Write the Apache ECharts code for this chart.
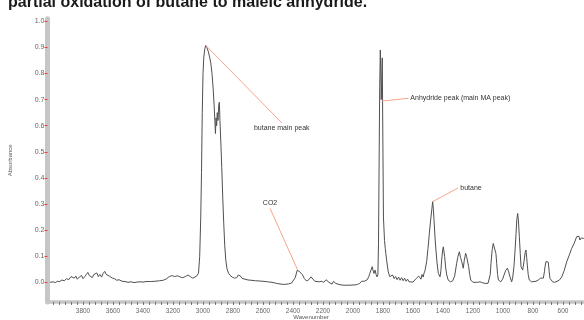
<!DOCTYPE html>
<html>
<head>
<meta charset="utf-8">
<script src="https://cdn.jsdelivr.net/npm/echarts@6/dist/echarts.min.js"></script>
<style>
  html, body { margin: 0; padding: 0; background: #fff; }
  #chart { width: 584px; height: 320px; }
</style>
</head>
<body>
<div id="chart"></div>
<script>
// IR spectrum: [wavenumber, absorbance]
const spectrum = [
  [4020, 0.000], [4000, 0.002], [3985, -0.001], [3970, 0.004], [3955, 0.003],
  [3940, 0.009], [3925, 0.006], [3910, 0.014], [3895, 0.010], [3880, 0.022],
  [3868, 0.028], [3858, 0.016], [3848, 0.024], [3838, 0.012], [3825, 0.020],
  [3810, 0.026], [3800, 0.014], [3788, 0.022], [3778, 0.030], [3768, 0.038],
  [3758, 0.026], [3748, 0.032], [3738, 0.018], [3728, 0.030], [3718, 0.024],
  [3708, 0.036], [3698, 0.022], [3688, 0.030], [3676, 0.020], [3666, 0.034],
  [3655, 0.042], [3645, 0.030], [3636, 0.036], [3625, 0.024], [3614, 0.026],
  [3604, 0.016], [3590, 0.014], [3575, 0.008], [3560, 0.010], [3540, 0.004],
  [3520, 0.003], [3500, 0.000], [3480, 0.002], [3460, -0.001], [3440, 0.001],
  [3420, 0.002], [3400, 0.001], [3380, 0.003], [3350, 0.003], [3320, 0.004],
  [3290, 0.006], [3265, 0.008], [3245, 0.013], [3225, 0.022], [3205, 0.026],
  [3190, 0.022], [3170, 0.025], [3150, 0.020], [3135, 0.018], [3118, 0.022],
  [3100, 0.028], [3085, 0.022], [3068, 0.016], [3055, 0.018], [3042, 0.024],
  [3030, 0.035], [3022, 0.10], [3015, 0.25], [3010, 0.42], [3005, 0.65],
  [3000, 0.80], [2995, 0.86], [2988, 0.895], [2982, 0.908], [2975, 0.90],
  [2965, 0.885], [2955, 0.86], [2948, 0.84], [2940, 0.80], [2932, 0.74],
  [2926, 0.68], [2921, 0.62], [2917, 0.57], [2913, 0.63], [2909, 0.60],
  [2905, 0.65], [2900, 0.62], [2895, 0.68], [2891, 0.69], [2887, 0.62],
  [2880, 0.52], [2875, 0.44], [2868, 0.32], [2862, 0.23], [2855, 0.14],
  [2848, 0.085], [2840, 0.052], [2830, 0.035], [2820, 0.027], [2805, 0.020],
  [2790, 0.016], [2775, 0.018], [2765, 0.028], [2758, 0.034], [2750, 0.024],
  [2740, 0.015], [2720, 0.012], [2700, 0.009], [2680, 0.008], [2650, 0.006],
  [2620, 0.005], [2600, 0.004], [2570, 0.002], [2540, 0.000], [2510, -0.004],
  [2480, -0.007], [2455, -0.008], [2430, -0.006], [2410, -0.003], [2398, 0.003],
  [2385, 0.018], [2372, 0.046], [2365, 0.040], [2358, 0.042], [2348, 0.036],
  [2338, 0.030], [2325, 0.015], [2310, 0.005], [2295, 0.010], [2280, 0.021],
  [2268, 0.014], [2255, 0.004], [2242, 0.000], [2225, 0.002], [2210, 0.004],
  [2195, 0.000], [2180, 0.010], [2170, 0.005], [2160, 0.000], [2150, 0.006],
  [2140, -0.007], [2130, 0.004], [2115, -0.004], [2100, -0.007], [2080, -0.010],
  [2060, -0.011], [2040, -0.011], [2020, -0.011], [2000, -0.010], [1985, -0.010],
  [1970, -0.008], [1955, -0.004], [1943, 0.004], [1935, 0.010], [1925, 0.004],
  [1915, 0.000], [1905, 0.010], [1895, 0.022], [1888, 0.034], [1880, 0.040],
  [1872, 0.060], [1866, 0.045], [1860, 0.034], [1853, 0.047], [1846, 0.030],
  [1840, 0.021], [1834, 0.030], [1830, 0.15], [1826, 0.45], [1822, 0.75],
  [1818, 0.89], [1815, 0.82], [1812, 0.70], [1809, 0.76], [1805, 0.86],
  [1801, 0.55], [1797, 0.25], [1790, 0.16], [1785, 0.13], [1776, 0.085],
  [1765, 0.040], [1755, 0.022], [1745, 0.015], [1735, 0.028], [1726, 0.014],
  [1716, 0.022], [1706, 0.010], [1696, 0.020], [1686, 0.008], [1676, 0.018],
  [1666, 0.006], [1656, 0.016], [1646, 0.004], [1636, 0.012], [1626, 0.002],
  [1616, 0.004], [1600, 0.001], [1588, 0.006], [1578, 0.015], [1570, 0.008],
  [1562, 0.024], [1555, 0.028], [1547, 0.012], [1540, 0.030], [1532, 0.020],
  [1527, 0.034], [1520, 0.045], [1509, 0.079], [1500, 0.13], [1491, 0.188],
  [1483, 0.235], [1475, 0.277], [1469, 0.309], [1464, 0.28], [1460, 0.24],
  [1453, 0.17], [1447, 0.124], [1440, 0.075], [1431, 0.034], [1420, 0.021],
  [1414, 0.045], [1409, 0.085], [1403, 0.120], [1398, 0.136], [1394, 0.120],
  [1389, 0.098], [1382, 0.055], [1375, 0.028], [1365, 0.008], [1350, 0.002],
  [1335, 0.006], [1322, 0.025], [1309, 0.073], [1300, 0.100], [1291, 0.117],
  [1283, 0.095], [1275, 0.079], [1265, 0.054], [1258, 0.085], [1249, 0.111],
  [1243, 0.100], [1238, 0.105], [1229, 0.060], [1222, 0.030], [1215, 0.009],
  [1200, 0.000], [1187, -0.004], [1170, 0.000], [1153, 0.002], [1135, -0.002],
  [1120, -0.004], [1100, -0.004], [1091, 0.000], [1085, 0.030], [1080, 0.073],
  [1072, 0.125], [1065, 0.149], [1059, 0.145], [1053, 0.143], [1047, 0.110],
  [1042, 0.073], [1036, 0.030], [1031, 0.009], [1015, 0.002], [1003, 0.012],
  [993, 0.028], [982, 0.045], [971, 0.054], [962, 0.040], [953, 0.020],
  [942, 0.002], [935, 0.020], [927, 0.060], [920, 0.120], [913, 0.188],
  [908, 0.240], [902, 0.264], [897, 0.235], [891, 0.175], [885, 0.110],
  [880, 0.060], [869, 0.047], [860, 0.080], [852, 0.115], [847, 0.124],
  [842, 0.095], [838, 0.066], [832, 0.030], [825, 0.009], [810, 0.002],
  [798, 0.000], [780, 0.004], [765, 0.009], [750, 0.016], [742, 0.021],
  [731, 0.016], [724, 0.040], [720, 0.060], [713, 0.080], [709, 0.085],
  [703, 0.082], [698, 0.077], [692, 0.040], [687, 0.015], [669, 0.002],
  [655, 0.000], [642, 0.000], [625, 0.008], [609, 0.020], [592, 0.045],
  [575, 0.079], [558, 0.105], [542, 0.130], [525, 0.150], [509, 0.175],
  [500, 0.168], [493, 0.176], [487, 0.162], [478, 0.170], [470, 0.165],
  [464, 0.168], [460, 0.170]
];

const xTickLabels = [3800, 3600, 3400, 3200, 3000, 2800, 2600, 2400, 2200, 2000, 1800, 1600, 1400, 1200, 1000, 800, 600];
const yTickLabels = [0, 0.1, 0.2, 0.3, 0.4, 0.5, 0.6, 0.7, 0.8, 0.9, 1.0];

// peak callouts: peak point -> end of the pointer line
const calloutText = ["butane main peak", "Anhydride peak (main MA peak)", "CO2", "butane"];
const calloutPeak = [[2982, 0.908], [1811, 0.694], [2369, 0.047], [1469, 0.309]];
const calloutEnd = [[2475, 0.611], [1631, 0.705], [2553, 0.283], [1298, 0.362]];
const calloutSide = ["bottom", "right", "top", "right"];

// small red ticks along the wavenumber axis
const xMinorTicks = [];
for (let w = 480; w <= 4000; w += 40) xMinorTicks.push(w);

const chart = echarts.init(document.getElementById("chart"));

const font = "Liberation Sans, Arial, sans-serif";

const option = {
  animation: false,
  title: {
    text: "partial oxidation of butane to maleic anhydride.",
    left: 3,
    top: -10.5,
    textStyle: { fontFamily: font, fontSize: 16, fontWeight: "bold", color: "#1a1a1a" },
  },
  grid: { left: 50, right: 0, top: 18.7, bottom: 18.1, outerBoundsMode: "none", containLabel: false },
  xAxis: {
    type: "value",
    inverse: true,
    min: 460,
    max: 4020,
    name: "Wavenumber",
    nameLocation: "middle",
    nameGap: 12,
    nameMoveOverlap: false,
    nameTextStyle: { fontFamily: font, fontSize: 6, color: "#555", padding: [0, 12, 0, 0] },
    axisLine: { onZero: false, lineStyle: { color: "#c6c6c6", width: 3.5 } },
    axisTick: {
      customValues: xMinorTicks,
      length: 3,
      lineStyle: { color: "#f03c3c", width: 1 },
    },
    axisLabel: {
      customValues: xTickLabels,
      formatter: (v) => String(v),
      fontFamily: font,
      fontSize: 6.5,
      color: "#666",
      margin: 6,
    },
    splitLine: { show: false },
  },
  yAxis: {
    type: "value",
    min: -0.075,
    max: 1.01,
    offset: 2.5,
    name: "Absorbance",
    nameLocation: "middle",
    nameGap: 34,
    nameTextStyle: { fontFamily: font, fontSize: 6, color: "#555" },
    axisLine: { show: true, onZero: false, lineStyle: { color: "#c6c6c6", width: 5 } },
    axisTick: {
      show: true,
      customValues: yTickLabels,
      length: 3,
      lineStyle: { color: "#f03c3c", width: 1 },
    },
    axisLabel: {
      customValues: yTickLabels,
      formatter: (v) => v.toFixed(1),
      fontFamily: font,
      fontSize: 7,
      color: "#666",
      margin: 3,
    },
    splitLine: { show: false },
  },
  series: [
    {
      type: "line",
      data: spectrum,
      showSymbol: false,
      lineStyle: { color: "#505050", width: 1 },
      markLine: {
        silent: true,
        symbol: "none",
        label: { show: false },
        lineStyle: { color: "#f6a48c", width: 1, type: "solid" },
        data: calloutPeak.map((p, i) => [{ coord: p }, { coord: calloutEnd[i] }]),
      },
      markPoint: {
        silent: true,
        symbol: "circle",
        symbolSize: 0,
        data: calloutEnd.map((p, i) => ({
          coord: p,
          label: {
            show: true,
            position: calloutSide[i],
            distance: 2,
            formatter: calloutText[i],
            fontFamily: font,
            fontSize: 7,
            color: "#333",
          },
        })),
      },
    },
  ],
};

chart.setOption(option);
</script>
</body>
</html>
